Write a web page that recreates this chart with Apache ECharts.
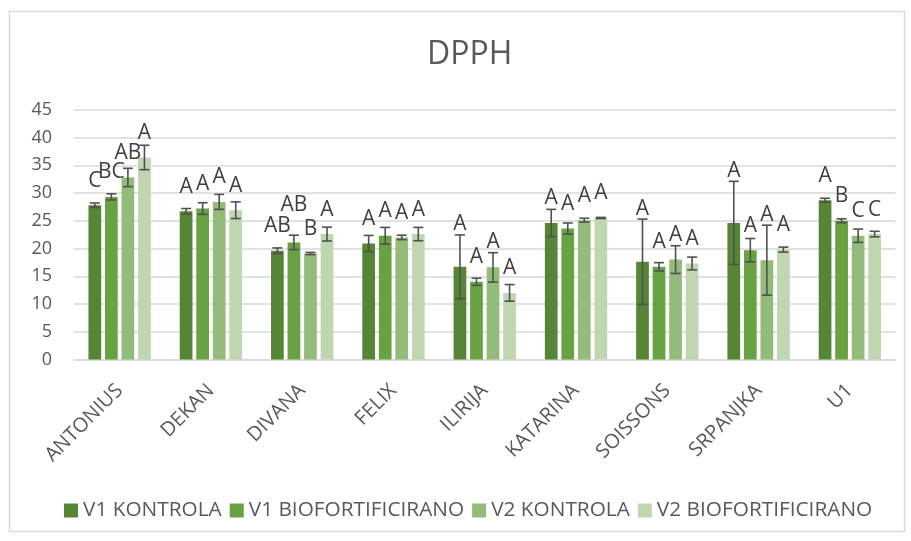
<!DOCTYPE html>
<html>
<head>
<meta charset="utf-8">
<script src="https://cdn.jsdelivr.net/npm/echarts@6/dist/echarts.min.js"></script>
<style>
  html, body { margin: 0; padding: 0; background: #ffffff; }
  #chart { width: 911px; height: 541px; }
</style>
</head>
<body>
<div id="chart"></div>
<script>
// Cultivars on the category axis
const categories = ['ANTONIUS', 'DEKAN', 'DIVANA', 'FELIX', 'ILIRIJA', 'KATARINA', 'SOISSONS', 'SRPANJKA', 'U1'];
const seriesNames = ['V1 KONTROLA', 'V1 BIOFORTIFICIRANO', 'V2 KONTROLA', 'V2 BIOFORTIFICIRANO'];

// Mean DPPH values
const v1Kontrola = [27.8, 26.7, 19.6, 20.9, 16.7, 24.6, 17.6, 24.6, 28.7];
const v1Bio      = [29.3, 27.2, 21.1, 22.3, 14.0, 23.6, 16.7, 19.7, 25.0];
const v2Kontrola = [32.8, 28.4, 19.1, 22.0, 16.6, 25.1, 18.0, 17.9, 22.3];
const v2Bio      = [36.4, 26.9, 22.6, 22.6, 12.0, 25.5, 17.3, 19.8, 22.6];

// Standard deviations (error bars)
const v1KontrolaErr = [0.4, 0.5, 0.5, 1.45, 5.75, 2.45, 7.7, 7.5, 0.35];
const v1BioErr      = [0.55, 1.05, 1.3, 1.5, 0.65, 1.0, 0.75, 2.1, 0.35];
const v2KontrolaErr = [1.65, 1.35, 0.2, 0.4, 2.65, 0.35, 2.5, 6.3, 1.2];
const v2BioErr      = [2.2, 1.5, 1.25, 1.2, 1.5, 0.1, 1.15, 0.45, 0.5];

// Significance letters
const v1KontrolaLet = ['C', 'A', 'AB', 'A', 'A', 'A', 'A', 'A', 'A'];
const v1BioLet      = ['BC', 'A', 'AB', 'A', 'A', 'A', 'A', 'A', 'B'];
const v2KontrolaLet = ['AB', 'A', 'B', 'A', 'A', 'A', 'A', 'A', 'C'];
const v2BioLet      = ['A', 'A', 'A', 'A', 'A', 'A', 'A', 'A', 'C'];

// Value axis ticks
const yMin = 0, yMax = 45, yStep = 5;

const values  = [v1Kontrola, v1Bio, v2Kontrola, v2Bio];
const errors  = [v1KontrolaErr, v1BioErr, v2KontrolaErr, v2BioErr];
const letters = [v1KontrolaLet, v1BioLet, v2KontrolaLet, v2BioLet];

const colors = ['#568536', '#69A242', '#93BB79', '#BFD6B1'];
const FONT = '"Open Sans", "Liberation Sans", sans-serif';
const CAT_GAP = 0.317;   // barCategoryGap as a fraction
const BAR_GAP = 0.30;    // barGap as a fraction of bar width
const LABEL_SIZE = 21;
const ERR_COLOR = '#505050';

// Error bars plus letter labels, one group per category
function renderErrors(params, api) {
  const ci = api.value(0);
  const catW = api.size([1, 0])[0];
  const usable = catW * (1 - CAT_GAP);
  const n = values.length;
  const bw = usable / (n + (n - 1) * BAR_GAP);
  const cx = api.coord([ci, 0])[0];
  const children = [];
  const placed = [];
  const capHalf = 5;
  const capH = LABEL_SIZE * 0.714;
  for (let s = 0; s < n; s++) {
    const x = cx - usable / 2 + s * bw * (1 + BAR_GAP) + bw / 2;
    const v = values[s][ci], e = errors[s][ci];
    const yHi = api.coord([ci, v + e])[1];
    const yLo = api.coord([ci, v - e])[1];
    const yBar = api.coord([ci, v])[1];
    const ls = { stroke: ERR_COLOR, lineWidth: 1.6 };
    children.push({ type: 'line', shape: { x1: x, y1: yHi, x2: x, y2: yLo }, style: ls });
    children.push({ type: 'line', shape: { x1: x - capHalf, y1: yHi, x2: x + capHalf, y2: yHi }, style: ls });
    children.push({ type: 'line', shape: { x1: x - capHalf, y1: yLo, x2: x + capHalf, y2: yLo }, style: ls });

    // letter sits above the bar, or above the error bar when that reaches higher;
    // lift it further if it would collide with the previous letter in the group
    const txt = letters[s][ci];
    let base = Math.min(yBar - 18, yHi - 4);
    const w = txt.length * LABEL_SIZE * 0.62;
    for (const p of placed) {
      const xo = Math.min(x + w / 2, p.x + p.w / 2) - Math.max(x - w / 2, p.x - p.w / 2);
      const yo = Math.min(base, p.base) - Math.max(base - capH, p.base - capH);
      if (xo > 4 && yo > 3) base = p.base - capH - 6;
    }
    placed.push({ x: x, w: w, base: base });
    children.push({
      type: 'text',
      style: {
        text: txt, x: x, y: base + 4,
        align: 'center', verticalAlign: 'bottom',
        fontSize: LABEL_SIZE, fontFamily: FONT, fill: '#404040'
      }
    });
  }
  return { type: 'group', children: children };
}

const chart = echarts.init(document.getElementById('chart'), null, { renderer: 'canvas' });

const barSeries = seriesNames.map((name, s) => ({
  name: name,
  type: 'bar',
  data: values[s],
  barGap: (BAR_GAP * 100) + '%',
  barCategoryGap: (CAT_GAP * 100) + '%',
  itemStyle: { color: colors[s] },
  silent: true
}));

chart.setOption({
  animation: false,
  backgroundColor: '#ffffff',
  title: {
    text: 'DPPH',
    left: 422,
    top: 34,
    textStyle: { fontFamily: FONT, fontSize: 32, fontWeight: 'normal', color: '#595959' }
  },
  legend: {
    data: seriesNames,
    left: 64,
    top: 500,
    padding: 0,
    icon: 'rect',
    itemWidth: 14,
    itemHeight: 14,
    itemGap: 8,
    textStyle: { fontFamily: FONT, fontSize: 20.8, color: '#595959' }
  },
  grid: { left: 74, right: 15.5, top: 109.75, bottom: 181.5, containLabel: false },
  xAxis: {
    type: 'category',
    data: categories,
    axisTick: { show: false },
    axisLine: { lineStyle: { color: '#d9d9d9', width: 1.5 } },
    axisLabel: { rotate: 45, interval: 0, fontFamily: FONT, fontSize: 20, color: '#595959', margin: 28 }
  },
  yAxis: {
    type: 'value',
    min: yMin,
    max: yMax,
    interval: yStep,
    axisLine: { show: false },
    axisTick: { show: false },
    axisLabel: { fontFamily: FONT, fontSize: 18, color: '#595959', margin: 22 },
    splitLine: { lineStyle: { color: '#d9d9d9', width: 1.5 } }
  },
  graphic: [{
    type: 'rect',
    shape: { x: 9.5, y: 11.5, width: 895, height: 520 },
    style: { fill: null, stroke: '#d9d9d9', lineWidth: 1.5 },
    silent: true
  }],
  series: barSeries.concat([{
    type: 'custom',
    name: 'errors',
    renderItem: renderErrors,
    data: categories.map((c, i) => [i]),
    encode: { x: 0 },
    z: 10,
    silent: true
  }])
});
</script>
</body>
</html>
